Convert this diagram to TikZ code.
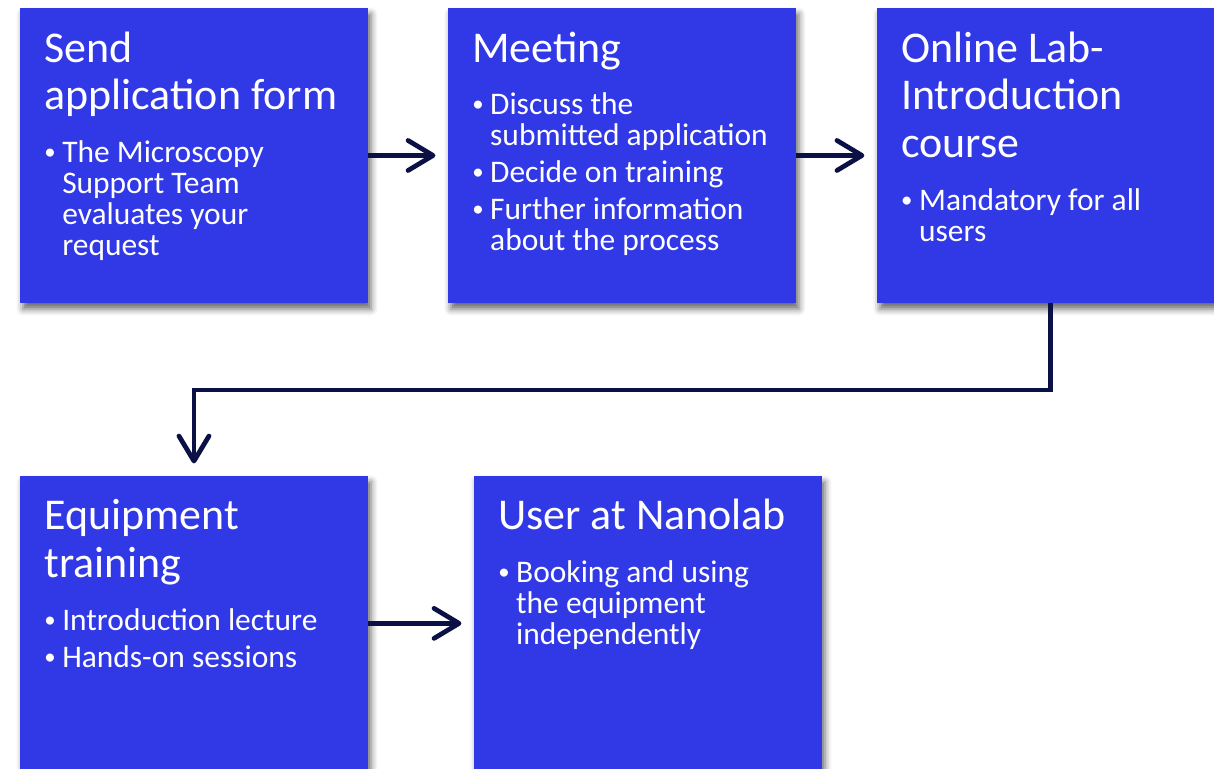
\documentclass[tikz,border=0pt]{standalone}
\usepackage{fontspec}
\setmainfont{Carlito}
\usepackage{tikz}
\usetikzlibrary{positioning, arrows.meta, shadows.blur}
\definecolor{mblue}{HTML}{3139E6}
\definecolor{mnavy}{HTML}{0B1145}
\tikzset{
  node box/.style={rectangle,fill=mblue,minimum width=6.96cm,minimum height=5.9cm,inner sep=0,outer sep=0,
    blur shadow={shadow xshift=0.06cm,shadow yshift=-0.12cm,shadow blur radius=0.13cm,shadow opacity=60}},
  node text/.style={anchor=base west,inner sep=0,text=white,text width=6.4cm,align=left,
    font=\fontsize{17.9}{17.6}\selectfont},
  connect arrow/.style={-{Straight Barb[length=0.5cm,width=0.6cm,round]},line width=0.095cm,mnavy,shorten >=0.25cm}
}
% heading and bullet lines inside a box
\newcommand{\steptitle}[1]{{\spaceskip=0pt\xspaceskip=0pt\fontsize{25}{27.2}\selectfont #1\par}\vspace{12.4pt}}
\newcommand{\stepitem}[1]{{\spaceskip=0pt\xspaceskip=0pt\hangindent=10.2pt\hangafter=1\noindent
  \makebox[10.2pt][l]{\raisebox{1.6pt}{\fontsize{13}{13}\selectfont\textbullet}}#1\par}\vspace{3.4pt}}

\begin{document}
\begin{tikzpicture}[x=0.02cm, y=0.02cm]
  \useasboundingbox (0,0) rectangle (1214,-768);

  % Boxes
  \node[node box, anchor=north west] (send) at (20,-8) {};
  \node[node box, right=1.6cm of send] (meeting) {};
  \node[node box, right=1.62cm of meeting] (online) {};
  \node[node box, below=3.46cm of send] (training) {};
  \node[node box, right=2.12cm of training] (user) {};

  % Box texts
  \node[node text] (send text) at ([shift={(24,-54)}]send.north west) {%
    \steptitle{Send\newline application form}
    \stepitem{The Microscopy\newline Support Team\newline evaluates your\newline request}};
  \node[node text] (meeting text) at ([shift={(24,-54)}]meeting.north west) {%
    \steptitle{Meeting}
    \stepitem{Discuss the\newline submitted application}
    \stepitem{Decide on training}
    \stepitem{Further information\newline about the process}};
  \node[node text] (online text) at ([shift={(24,-54)}]online.north west) {%
    \steptitle{Online Lab-\newline Introduction\newline course}
    \stepitem{Mandatory for all\newline users}};
  \node[node text] (training text) at ([shift={(24,-54)}]training.north west) {%
    \steptitle{Equipment\newline training}
    \stepitem{Introduction lecture}
    \stepitem{Hands-on sessions}};
  \node[node text] (user text) at ([shift={(24,-54)}]user.north west) {%
    \steptitle{User at Nanolab}
    \stepitem{Booking and using\newline the equipment\newline independently}};

  % Arrows
  \draw[connect arrow] (send) -- (meeting);
  \draw[connect arrow] (meeting) -- (online);
  \draw[connect arrow] (online.south) -- ++(0,-87) -| (training);
  \draw[connect arrow] (training) -- (user);

\end{tikzpicture}
\end{document}
